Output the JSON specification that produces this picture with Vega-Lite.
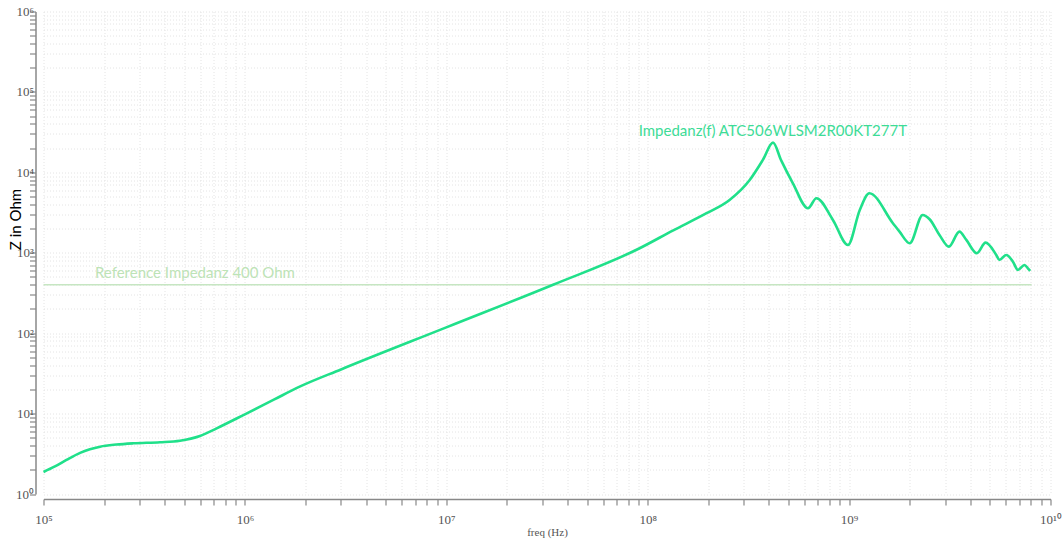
{
  "$schema": "https://vega.github.io/schema/vega-lite/v6.json",
  "width": 1007,
  "height": 482.5,
  "autosize": "none",
  "padding": {"left": 43.5, "top": 11.5, "right": 12.5, "bottom": 45},
  "background": "white",
  "config": {"view": {"stroke": null}},
  "datasets": {
    "curve": [
      {"f": 100000, "z": 1.88},
      {"f": 114000, "z": 2.2},
      {"f": 130000, "z": 2.65},
      {"f": 152000, "z": 3.25},
      {"f": 170000, "z": 3.6},
      {"f": 191000, "z": 3.88},
      {"f": 230000, "z": 4.12},
      {"f": 279000, "z": 4.27},
      {"f": 379000, "z": 4.40},
      {"f": 476000, "z": 4.60},
      {"f": 598000, "z": 5.27},
      {"f": 724000, "z": 6.56},
      {"f": 1000000, "z": 9.8},
      {"f": 1400000, "z": 15.0},
      {"f": 1870000, "z": 21.6},
      {"f": 3000000, "z": 35.4},
      {"f": 10000000, "z": 118},
      {"f": 33900000, "z": 400},
      {"f": 91200000, "z": 1137},
      {"f": 134000000, "z": 1900},
      {"f": 196000000, "z": 3100},
      {"f": 255000000, "z": 4540},
      {"f": 321000000, "z": 8040},
      {"f": 373000000, "z": 14270},
      {"f": 419000000, "z": 23400},
      {"f": 460000000, "z": 14060},
      {"f": 526000000, "z": 7310},
      {"f": 625000000, "z": 3575},
      {"f": 688000000, "z": 4760},
      {"f": 831000000, "z": 2560},
      {"f": 987000000, "z": 1250},
      {"f": 1130000000, "z": 3405},
      {"f": 1260000000, "z": 5497},
      {"f": 1650000000, "z": 2330},
      {"f": 1780000000, "z": 1830},
      {"f": 2000000000, "z": 1313},
      {"f": 2320000000, "z": 2952},
      {"f": 2510000000, "z": 2612},
      {"f": 2810000000, "z": 1665},
      {"f": 3130000000, "z": 1191},
      {"f": 3530000000, "z": 1830},
      {"f": 3820000000, "z": 1443},
      {"f": 4310000000, "z": 986},
      {"f": 4760000000, "z": 1336},
      {"f": 5380000000, "z": 939},
      {"f": 5580000000, "z": 813},
      {"f": 6030000000, "z": 939},
      {"f": 6510000000, "z": 775},
      {"f": 6890000000, "z": 611},
      {"f": 7430000000, "z": 705},
      {"f": 7720000000, "z": 641},
      {"f": 7930000000, "z": 594}
    ],
    "ref": [
      {"f": 100000, "z": 400},
      {"f": 8050000000, "z": 400}
    ],
    "labelCurve": [
      {"f": 90200000, "z": 32700, "txt": "Impedanz(f) ATC506WLSM2R00KT277T"}
    ],
    "labelRef": [
      {"f": 180000, "z": 556, "txt": "Reference Impedanz 400 Ohm"}
    ]
  },
  "encoding": {
    "x": {
      "field": "f",
      "type": "quantitative",
      "scale": {"type": "log", "domain": [100000, 10000000000], "nice": false},
      "axis": {
        "title": "freq (Hz)",
        "values": [100000,200000,300000,400000,500000,600000,700000,800000,900000,
                   1000000,2000000,3000000,4000000,5000000,6000000,7000000,8000000,9000000,
                   10000000,20000000,30000000,40000000,50000000,60000000,70000000,80000000,90000000,
                   100000000,200000000,300000000,400000000,500000000,600000000,700000000,800000000,900000000,
                   1000000000,2000000000,3000000000,4000000000,5000000000,6000000000,7000000000,8000000000,9000000000,
                   10000000000],
        "labelExpr": "(abs(datum.value/pow(10,round(log(datum.value)/LN10))-1)<0.001) ? (round(log(datum.value)/LN10)==10 ? '10¹⁰' : '10' + slice('⁰¹²³⁴⁵⁶⁷⁸⁹', round(log(datum.value)/LN10), round(log(datum.value)/LN10)+1)) : ''",
        "offset": 5,
        "tickSize": 6,
        "labelPadding": 8,
        "labelFont": "Liberation Serif",
        "labelFontSize": 13,
        "labelColor": "#555555",
        "labelFlush": false,
        "labelOverlap": false,
        "domainColor": "#888888",
        "domainWidth": 1.5,
        "tickColor": "#888888",
        "tickWidth": 1.2,
        "grid": true,
        "gridColor": "#e4e4e4",
        "gridDash": [1, 2],
        "titleFont": "Liberation Serif",
        "titleFontSize": 11,
        "titleFontWeight": "normal",
        "titleColor": "#555555",
        "titleBaseline": "middle",
        "titleY": 33
      }
    },
    "y": {
      "field": "z",
      "type": "quantitative",
      "scale": {"type": "log", "domain": [1, 1000000], "nice": false},
      "axis": {
        "title": "Z in Ohm",
        "values": [1,2,3,4,5,6,7,8,9,10,20,30,40,50,60,70,80,90,100,200,300,400,500,600,700,800,900,
                   1000,2000,3000,4000,5000,6000,7000,8000,9000,10000,20000,30000,40000,50000,60000,70000,80000,90000,
                   100000,200000,300000,400000,500000,600000,700000,800000,900000,1000000],
        "labelExpr": "(abs(datum.value/pow(10,round(log(datum.value)/LN10))-1)<0.001) ? (round(log(datum.value)/LN10)==10 ? '10¹⁰' : '10' + slice('⁰¹²³⁴⁵⁶⁷⁸⁹', round(log(datum.value)/LN10), round(log(datum.value)/LN10)+1)) : ''",
        "offset": 8,
        "tickSize": 6,
        "labelPadding": -4,
        "labelFont": "Liberation Serif",
        "labelFontSize": 13,
        "labelColor": "#555555",
        "labelFlush": false,
        "labelOverlap": false,
        "domainColor": "#888888",
        "domainWidth": 1.5,
        "tickColor": "#888888",
        "tickWidth": 1.2,
        "grid": true,
        "gridColor": "#e4e4e4",
        "gridDash": [1, 2],
        "titleFont": "Lato",
        "titleFontSize": 15,
        "titleFontWeight": "normal",
        "titleColor": "#000000",
        "titleAngle": -90,
        "titleAlign": "center",
        "titleBaseline": "middle",
        "titleX": -20,
        "titleY": 207.5
      }
    }
  },
  "layer": [
    {
      "data": {"name": "ref"},
      "mark": {"type": "line", "color": "#c6e6c2", "strokeWidth": 1.5}
    },
    {
      "data": {"name": "curve"},
      "mark": {"type": "line", "color": "#20e08a", "strokeWidth": 2.6, "interpolate": "monotone"}
    },
    {
      "data": {"name": "labelCurve"},
      "mark": {"type": "text", "color": "#3ddc97", "font": "Lato", "fontSize": 15, "align": "left", "baseline": "middle"},
      "encoding": {"text": {"field": "txt"}}
    },
    {
      "data": {"name": "labelRef"},
      "mark": {"type": "text", "color": "#bde3b6", "font": "Lato", "fontSize": 15, "align": "left", "baseline": "middle"},
      "encoding": {"text": {"field": "txt"}}
    }
  ]
}
